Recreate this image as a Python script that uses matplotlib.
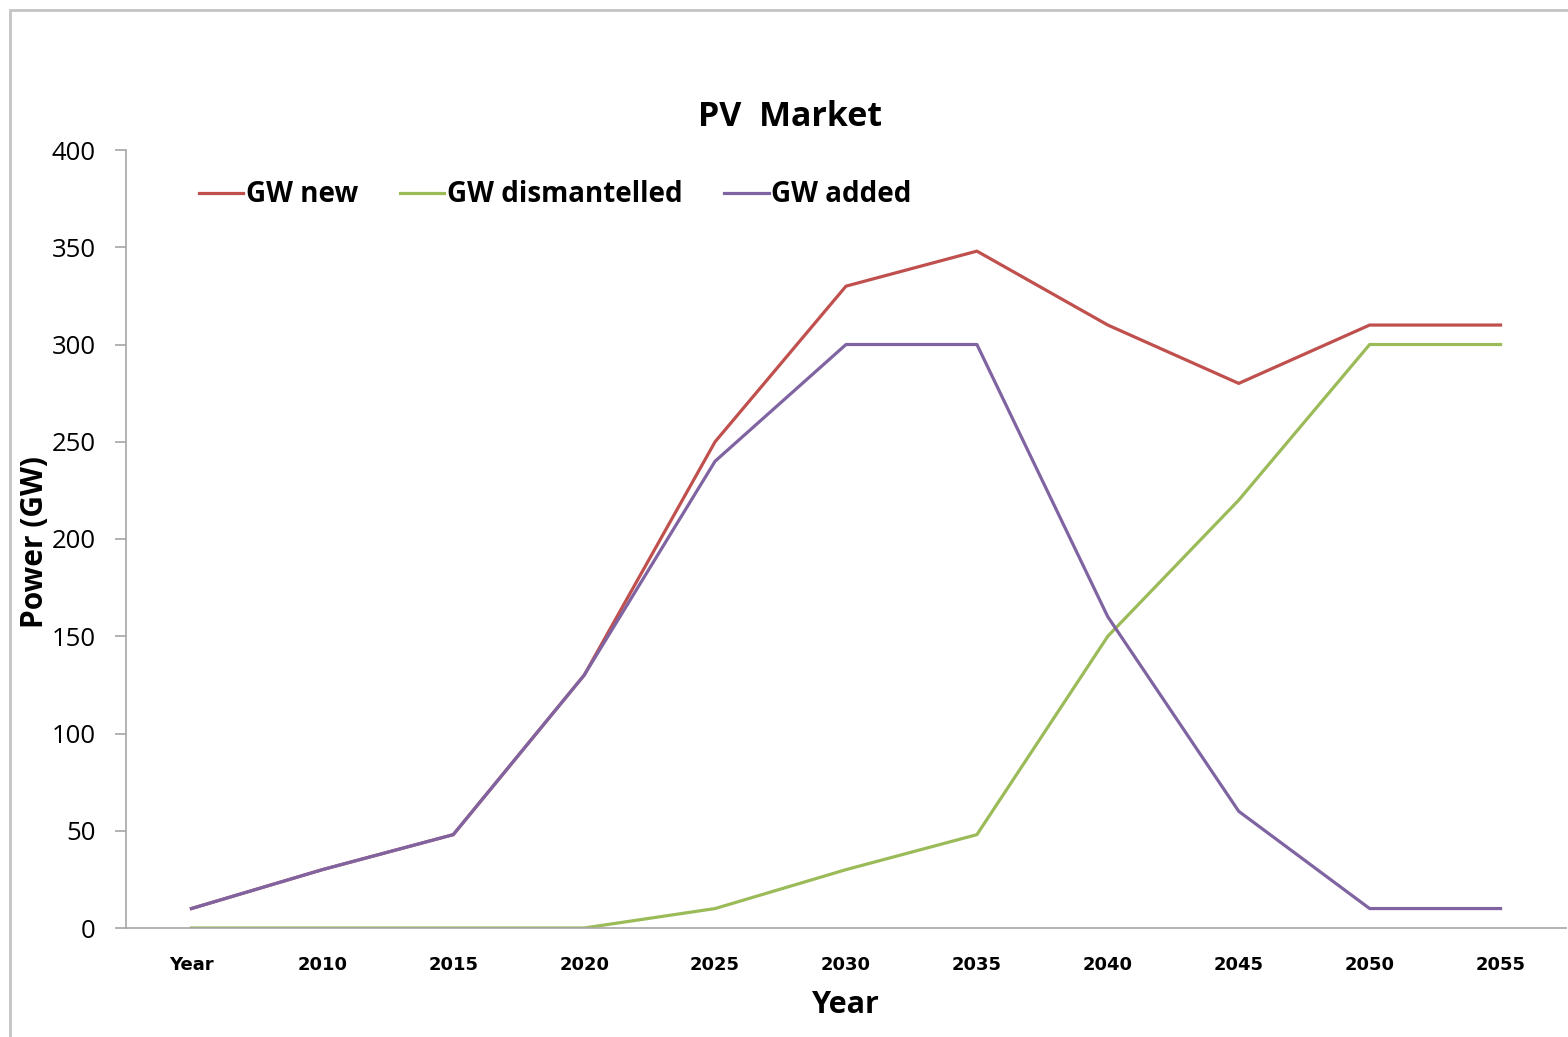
import numpy as np
import matplotlib
matplotlib.use("Agg")
import matplotlib.pyplot as plt
from matplotlib.patches import Rectangle

# categories on the x axis
years = ["Year", "2010", "2015", "2020", "2025", "2030", "2035", "2040", "2045", "2050", "2055"]

# series (GW)
gw_new = [10, 30, 48, 130, 250, 330, 348, 310, 280, 310, 310]
gw_dismantelled = [0, 0, 0, 0, 10, 30, 48, 150, 220, 300, 300]
gw_added = [10, 30, 48, 130, 240, 300, 300, 160, 60, 10, 10]

yticks = [0, 50, 100, 150, 200, 250, 300, 350, 400]

plt.rcParams['font.family'] = ['Open Sans', 'DejaVu Sans']

fig = plt.figure(figsize=(15.68, 10.37), dpi=100)
ax = fig.add_axes([126/1568, 109/1037, 1440/1568, 778/1037])

x = np.arange(len(years))
ax.plot(x, gw_new, color='#C0504D', lw=2.3, label='GW new')
ax.plot(x, gw_dismantelled, color='#9BBB59', lw=2.3, label='GW dismantelled')
ax.plot(x, gw_added, color='#8064A2', lw=2.3, label='GW added')

ax.set_xlim(-0.5, len(years) - 0.5)
ax.set_ylim(0, 400)
ax.set_yticks(yticks)
ax.set_yticklabels([str(v) for v in yticks], fontsize=18.5)
ax.set_xticks(x)
ax.set_xticklabels(years, fontsize=13, fontweight='bold',
                   family=['DejaVu Sans Condensed', 'Liberation Sans Narrow', 'DejaVu Sans'])

for side in ['top', 'right']:
    ax.spines[side].set_visible(False)
for side in ['left', 'bottom']:
    ax.spines[side].set_color('#a6a6a6')
    ax.spines[side].set_linewidth(1.2)
ax.tick_params(axis='y', length=8, width=1.2, color='#a6a6a6', pad=14)
ax.tick_params(axis='x', length=0, pad=20)

ax.set_xlabel('Year', fontsize=22, fontweight='bold', labelpad=12)
ax.set_ylabel('Power (GW)', fontsize=21.5, fontweight='bold')
ax.yaxis.set_label_coords(-0.053, 0.496)

fig.text(0.504, 0.887, 'PV  Market', ha='center', va='center', fontsize=24.5, fontweight='bold')

ax.legend(loc='upper left', bbox_to_anchor=(0.033, 0.993), ncol=3, frameon=False,
          prop={'size': 20, 'weight': 'bold'}, handlelength=1.6, handletextpad=0.1,
          columnspacing=1.5)

# outer chart border
fig.add_artist(Rectangle((10/1568, -0.01), 1.0, (1037 - 10)/1037 + 0.01, transform=fig.transFigure,
                         fill=False, edgecolor='#c4c4c4', lw=2))

fig.savefig('out.png', dpi=100, facecolor='white')
